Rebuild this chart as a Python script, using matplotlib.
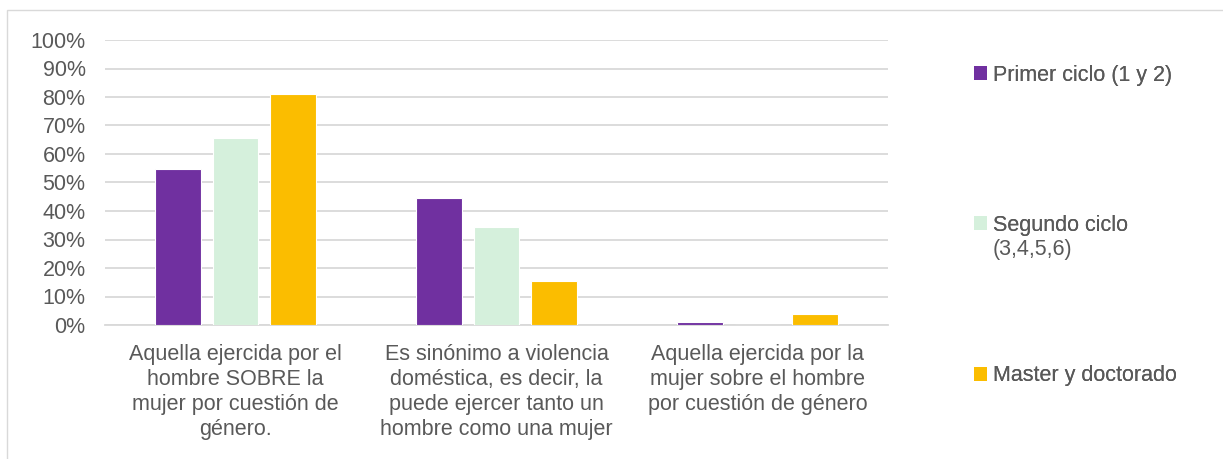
import numpy as np
import matplotlib.pyplot as plt
from matplotlib.patches import Rectangle, Patch
import matplotlib.ticker as ticker

categories = ["Aquella ejercida por el\nhombre SOBRE la\nmujer por cuestión de\ngénero.",
              "Es sinónimo a violencia\ndoméstica, es decir, la\npuede ejercer tanto un\nhombre como una mujer",
              "Aquella ejercida por la\nmujer sobre el hombre\npor cuestión de género"]
series = ["Primer ciclo (1 y 2)", "Segundo ciclo", "Master y doctorado"]
series_extra = ["", "(3,4,5,6)", ""]
primer = [0.547, 0.446, 0.012]
segundo = [0.656, 0.344, 0.0]
master = [0.811, 0.156, 0.040]
colors = ["#7030A0", "#D5F0DC", "#FBBD00"]

plt.rcParams['font.family'] = ['Liberation Sans', 'DejaVu Sans']
txt = "#595959"
fs = 15.5


def main():
    fig = plt.figure(figsize=(12.23, 4.59), dpi=100)
    ax = fig.add_axes([105 / 1223, 1 - 325 / 459, 783 / 1223, 285 / 459])

    x = np.arange(len(categories))
    w = 0.175
    step = 0.22
    for i, (vals, c) in enumerate(zip([primer, segundo, master], colors)):
        ax.bar(x + (i - 1) * step, vals, width=w, color=c, edgecolor="white",
               linewidth=0.8, zorder=3)

    ax.set_xlim(-0.5, 2.5)
    ax.set_ylim(0, 1.0)
    ax.yaxis.set_major_locator(ticker.MultipleLocator(0.1))
    ax.yaxis.set_major_formatter(ticker.PercentFormatter(1.0, decimals=0))
    ax.grid(axis="y", color="#D9D9D9", linewidth=1.3, zorder=0)
    ax.set_axisbelow(True)
    for s in ["top", "right", "left"]:
        ax.spines[s].set_visible(False)
    ax.spines["bottom"].set_color("#D9D9D9")
    ax.spines["bottom"].set_linewidth(1.3)
    ax.tick_params(axis="y", length=0, pad=14, labelsize=fs, labelcolor=txt)
    ax.tick_params(axis="x", length=0, pad=14, labelsize=fs, labelcolor=txt)
    ax.set_xticks(x)
    ax.set_xticklabels(categories, linespacing=1.25)

    # legend entries placed one by one like the original
    ypos = [75, 225, 376]
    for lab, extra, c, yp in zip(series, series_extra, colors, ypos):
        h = Patch(facecolor=c, edgecolor="none")
        leg = fig.legend(handles=[h], labels=[lab], loc="center left",
                         bbox_to_anchor=(974 / 1223, 1 - yp / 459), frameon=False,
                         fontsize=fs, handlelength=0.6, handleheight=0.6,
                         handletextpad=0.3, labelcolor=txt, borderaxespad=0,
                         borderpad=0)
        fig.add_artist(leg)
        if extra:
            fig.text(993 / 1223, 1 - (yp + 24) / 459, extra, fontsize=fs,
                     color=txt, ha="left", va="center")

    fig.patches.append(Rectangle((7 / 1223, -0.1), 1.2, 1 - 10 / 459 + 0.1,
                                 transform=fig.transFigure, fill=False,
                                 edgecolor="#D9D9D9", linewidth=1))

    fig.savefig("out.png", dpi=100)


if __name__ == "__main__":
    main()
